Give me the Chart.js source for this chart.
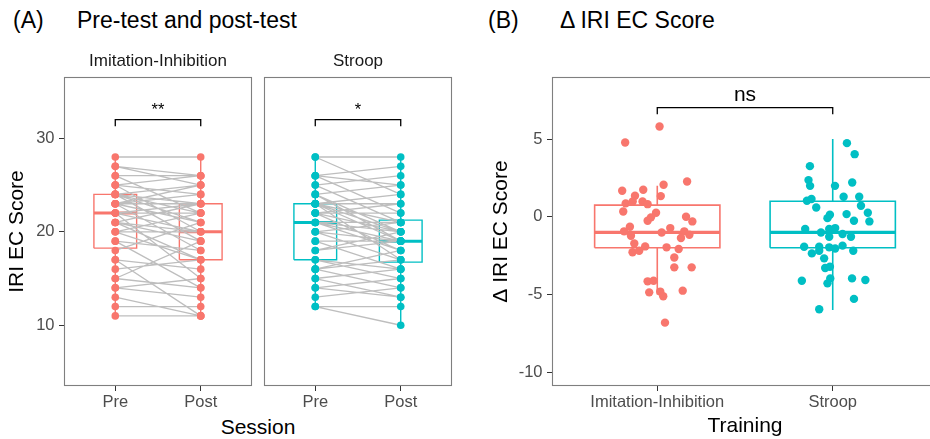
<!DOCTYPE html>
<html>
<head>
<meta charset="utf-8">
<script src="https://cdn.jsdelivr.net/npm/chart.js@4.4.1/dist/chart.umd.min.js"></script>
<style>
html, body { margin: 0; padding: 0; background: #fff; width: 930px; height: 439px; overflow: hidden; }
canvas { position: absolute; left: 0; top: 0; }
.lbl { position: absolute; font-family: "Liberation Sans", Arial, sans-serif; color: #000; white-space: nowrap; }
</style>
</head>
<body>
<div class="lbl" style="left:13px;top:9px;font-size:23px;line-height:23px">(A)</div>
<div class="lbl" style="left:77px;top:9px;font-size:23px;line-height:23px">Pre-test and post-test</div>
<div class="lbl" style="left:488px;top:9px;font-size:23px;line-height:23px">(B)</div>
<div class="lbl" style="left:560px;top:9px;font-size:23px;line-height:23px">Δ IRI EC Score</div>
<div class="lbl" style="left:158px;top:416px;width:200px;text-align:center;font-size:21px;line-height:21px">Session</div>
<canvas id="chartA1" width="950" height="439"></canvas>
<canvas id="chartA2" width="950" height="439"></canvas>
<canvas id="chartB" width="950" height="439"></canvas>
<script>
// categories and ticks
const sessions = ['Pre', 'Post'];
const trainings = ['Imitation-Inhibition', 'Stroop'];
const yTicksA = [10, 20, 30];
const yTicksB = [-10, -5, 0, 5];

// Panel A: IRI EC scores per subject (same order in pre and post)
const imitPre = [28, 27, 27, 26, 26, 25, 25, 25, 24, 24, 24, 24, 24, 23, 23, 23, 23, 23, 22, 22, 22,
                 22, 21, 21, 21, 21, 20, 20, 20, 19, 19, 18, 17, 17, 16, 15, 15, 14, 14, 13, 12, 11];
const imitPost = [28, 25, 26, 26, 22, 26, 24, 20, 25, 23, 22, 21, 19, 25, 24, 23, 21, 18, 23, 22, 20,
                  15, 23, 20, 19, 17, 22, 20, 17, 14, 18, 21, 16, 11, 17, 14, 19, 13, 15, 11, 12, 11];
const stroopPre = [28, 28, 26, 26, 26, 25, 25, 24, 24, 24, 23, 23, 23, 23, 23, 23, 23, 22, 22, 22, 22, 21,
                   21, 21, 21, 20, 20, 20, 19, 19, 18, 18, 17, 17, 16, 16, 16, 15, 15, 14, 14, 13, 12, 12];
const stroopPost = [28, 24, 27, 22, 25, 26, 21, 25, 20, 19, 24, 23, 21, 20, 19, 17, 21, 23, 22, 20, 18, 21,
                    19, 20, 18, 19, 21, 17, 19, 16, 20, 19, 16, 15, 18, 14, 17, 13, 16, 15, 13, 14, 12, 10];

// box stats: [lower whisker, q1, median, q3, upper whisker]
const imitPreBox = [11, 18.25, 22, 24, 28];
const imitPostBox = [11, 17, 20, 23, 28];
const stroopPreBox = [12, 17, 21, 23, 28];
const stroopPostBox = [10, 16.75, 19, 21.25, 28];
const imitDeltaBox = [-5, -2, -1, 0.75, 2];
const stroopDeltaBox = [-6, -2, -1, 1, 5];

// Panel B: jittered delta points (horizontal offset from category, value)
const imitJitX = [0.013, -0.183, 0.17, 0.036, -0.2, -0.08, -0.127, 0.02, -0.18, -0.14, -0.084, -0.055, -0.194, -0.007,
                  -0.036, -0.055, 0.164, 0.2, -0.156, -0.189, -0.15, 0.025, 0.074, 0.154, 0.183, 0.135, -0.131, -0.069,
                  -0.141, -0.103, 0.053, 0.122, 0.097, 0.097, 0.196, -0.055, -0.021, -0.046, 0.017, 0.034, 0.145, 0.044];
const imitJitY = [5.81, 4.78, 2.27, 2.06, 1.67, 1.74, 1.35, 1.33, 0.86, 0.98, 0.98, 0.81, 0.34, 0.26,
                  -0.04, -0.26, 0.0, -0.3, -0.64, -0.94, -1.22, -1.01, -0.73, -0.94, -1.16, -1.37, -1.72, -1.91,
                  -2.29, -2.19, -1.97, -2.08, -2.62, -3.26, -3.26, -4.16, -4.12, -4.87, -4.82, -5.12, -4.76, -6.82];
const stroopJitX = [0.081, 0.125, -0.13, -0.138, -0.129, 0.013, 0.111, -0.147, -0.121, 0.062, 0.151, 0.161, -0.094, -0.016,
                    -0.03, 0.079, 0.2, 0.121, 0.209, -0.157, -0.067, -0.02, 0.014, -0.02, 0.056, 0.104, -0.163, -0.077,
                    -0.02, 0.014, 0.056, -0.119, -0.077, 0.117, -0.049, -0.043, -0.016, -0.014, -0.03, -0.176, 0.11, 0.186,
                    0.121, -0.077];
const stroopJitY = [4.74, 4.03, 3.26, 2.36, 1.99, 1.99, 2.21, 1.03, 1.14, 1.29, 1.29, 0.71, 0.6, 0.13,
                    -0.09, 0.17, 0.26, -0.26, -0.3, -0.79, -1.01, -0.79, -0.73, -1.29, -1.11, -1.29, -1.93, -1.93,
                    -1.97, -2.04, -1.86, -2.36, -2.19, -2.19, -2.68, -3.3, -3.22, -3.97, -4.29, -4.12, -3.97, -4.07,
                    -5.29, -5.96];

// significance brackets: [tip, bar]
const bracketA = [31.3, 32];
const bracketB = [6.6, 7.03];

const red = '#F8766D';
const teal = '#00BFC4';
const fontFam = '"Liberation Sans", Arial, Helvetica, sans-serif';
Chart.defaults.font.family = fontFam;
Chart.defaults.animation = false;

function boxPath(c, s, half) {
    return [
        {x: c - half, y: s[1]}, {x: c + half, y: s[1]}, {x: c + half, y: s[3]},
        {x: c - half, y: s[3]}, {x: c - half, y: s[1]},
        {x: c, y: null},
        {x: c, y: s[3]}, {x: c, y: s[4]},
        {x: c, y: null},
        {x: c, y: s[1]}, {x: c, y: s[0]}
    ];
}

function medianPath(c, s, half) {
    return [{x: c - half, y: s[2]}, {x: c + half, y: s[2]}];
}

function pairLines(pre, post) {
    const pts = [];
    pre.forEach((v, i) => {
        pts.push({x: 1, y: v}, {x: 2, y: post[i]}, {x: 2, y: null});
    });
    return pts;
}

function bracket(b) {
    return [{x: 1, y: b[0]}, {x: 1, y: b[1]}, {x: 2, y: b[1]}, {x: 2, y: b[0]}];
}

function lineSet(data, color, width, order) {
    return {data: data, borderColor: color, borderWidth: width, pointRadius: 0, spanGaps: false,
            fill: false, tension: 0, order: order};
}

function pointSet(data, color, radius) {
    return {data: data, showLine: false, pointRadius: radius, pointHoverRadius: radius,
            pointBackgroundColor: color, pointBorderWidth: 0, borderColor: color, order: 1};
}

// panel frame, strip text and significance label
const panelDecor = {
    id: 'decor',
    afterDatasetsDraw(chart, args, opts) {
        const ctx = chart.ctx;
        const a = chart.chartArea;
        ctx.save();
        ctx.strokeStyle = '#7f7f7f';
        ctx.lineWidth = 1.1;
        ctx.strokeRect(Math.round(a.left) + 0.5, Math.round(a.top) + 0.5,
                       Math.round(a.right - a.left) - 1, Math.round(a.bottom - a.top) - 1);
        if (opts.strip) {
            ctx.fillStyle = '#1a1a1a';
            ctx.font = '17px ' + fontFam;
            ctx.textAlign = 'center';
            ctx.textBaseline = 'middle';
            ctx.fillText(opts.strip, (a.left + a.right) / 2, a.top - 16);
        }
        if (opts.sig) {
            ctx.fillStyle = '#000';
            ctx.font = opts.sigSize + 'px ' + fontFam;
            ctx.textAlign = 'center';
            ctx.textBaseline = 'alphabetic';
            ctx.fillText(opts.sig, chart.scales.x.getPixelForValue(1.5), chart.scales.y.getPixelForValue(opts.sigY));
        }
        ctx.restore();
    }
};

function xAxis(labels, title) {
    return {
        type: 'linear', min: 0.4, max: 2.6,
        afterBuildTicks: s => { s.ticks = [1, 2].map(v => ({value: v})); },
        afterFit: s => { s.height = 53; },
        ticks: {callback: v => labels[v - 1], color: '#4d4d4d', font: {size: 16.5}, padding: 2,
                maxRotation: 0, autoSkip: false},
        grid: {drawOnChartArea: false, drawTicks: true, tickLength: 5, tickColor: '#333', color: '#333'},
        border: {display: false},
        title: {display: !!title, text: title || '', color: '#000', font: {size: 21}, padding: {top: 0, bottom: 0}}
    };
}

function yAxis(min, max, ticks, width, title, titlePad, show) {
    return {
        type: 'linear', min: min, max: max, display: show,
        afterBuildTicks: s => { s.ticks = ticks.map(v => ({value: v})); },
        afterFit: s => { s.width = show ? width : 0; },
        ticks: {color: '#4d4d4d', font: {size: 16.5}, padding: 4.5},
        grid: {drawOnChartArea: false, drawTicks: true, tickLength: 5, tickColor: '#333', color: '#333'},
        border: {display: false},
        title: {display: !!title, text: title || '', color: '#000', font: {size: 21}, padding: {top: titlePad, bottom: 0}}
    };
}

function facetA(id, pre, post, preBox, postBox, color, strip, sig, padLeft, padRight, showY) {
    return new Chart(document.getElementById(id), {
        type: 'line',
        data: {
            datasets: [
                pointSet(pre.map(v => ({x: 1, y: v})).concat(post.map(v => ({x: 2, y: v}))), color, 3.8),
                lineSet(pairLines(pre, post), '#bebebe', 1.3, 2),
                lineSet(bracket(bracketA), '#000', 1.3, 2),
                lineSet(boxPath(1, preBox, 0.25), color, 1.4, 3),
                lineSet(boxPath(2, postBox, 0.25), color, 1.4, 3),
                lineSet(medianPath(1, preBox, 0.25), color, 3, 3),
                lineSet(medianPath(2, postBox, 0.25), color, 3, 3)
            ]
        },
        options: {
            responsive: false,
            events: [],
            layout: {padding: {top: 77, bottom: 0, left: padLeft, right: padRight}},
            scales: {
                x: xAxis(sessions, ''),
                y: yAxis(3.5, 36.56, yTicksA, 64, 'IRI EC Score', 5, showY)
            },
            plugins: {
                legend: {display: false}, tooltip: {enabled: false},
                decor: {strip: strip, sig: sig, sigY: 32.5, sigSize: 16.5}
            }
        },
        plugins: [panelDecor]
    });
}

facetA('chartA1', imitPre, imitPost, imitPreBox, imitPostBox, red, trainings[0], '**', 0, 698, true);
facetA('chartA2', stroopPre, stroopPost, stroopPreBox, stroopPostBox, teal, trainings[1], '*', 264, 498, false);

new Chart(document.getElementById('chartB'), {
    type: 'line',
    data: {
        datasets: [
            pointSet(imitJitY.map((v, i) => ({x: 1 + imitJitX[i], y: v})), red, 4.2),
            pointSet(stroopJitY.map((v, i) => ({x: 2 + stroopJitX[i], y: v})), teal, 4.2),
            lineSet(bracket(bracketB), '#000', 1.3, 2),
            lineSet(boxPath(1, imitDeltaBox, 0.357), red, 1.6, 3),
            lineSet(boxPath(2, stroopDeltaBox, 0.357), teal, 1.6, 3),
            lineSet(medianPath(1, imitDeltaBox, 0.357), red, 3.2, 3),
            lineSet(medianPath(2, stroopDeltaBox, 0.357), teal, 3.2, 3)
        ]
    },
    options: {
        responsive: false,
        events: [],
        layout: {padding: {top: 77, bottom: 0, left: 460, right: 12}},
        scales: {
            x: xAxis(trainings, 'Training'),
            y: yAxis(-10.9, 9.0, yTicksB, 92, 'Δ IRI EC Score', 28.4, true)
        },
        plugins: {
            legend: {display: false}, tooltip: {enabled: false},
            decor: {strip: '', sig: 'ns', sigY: 7.43, sigSize: 21}
        }
    },
    plugins: [panelDecor]
});
</script>
</body>
</html>
